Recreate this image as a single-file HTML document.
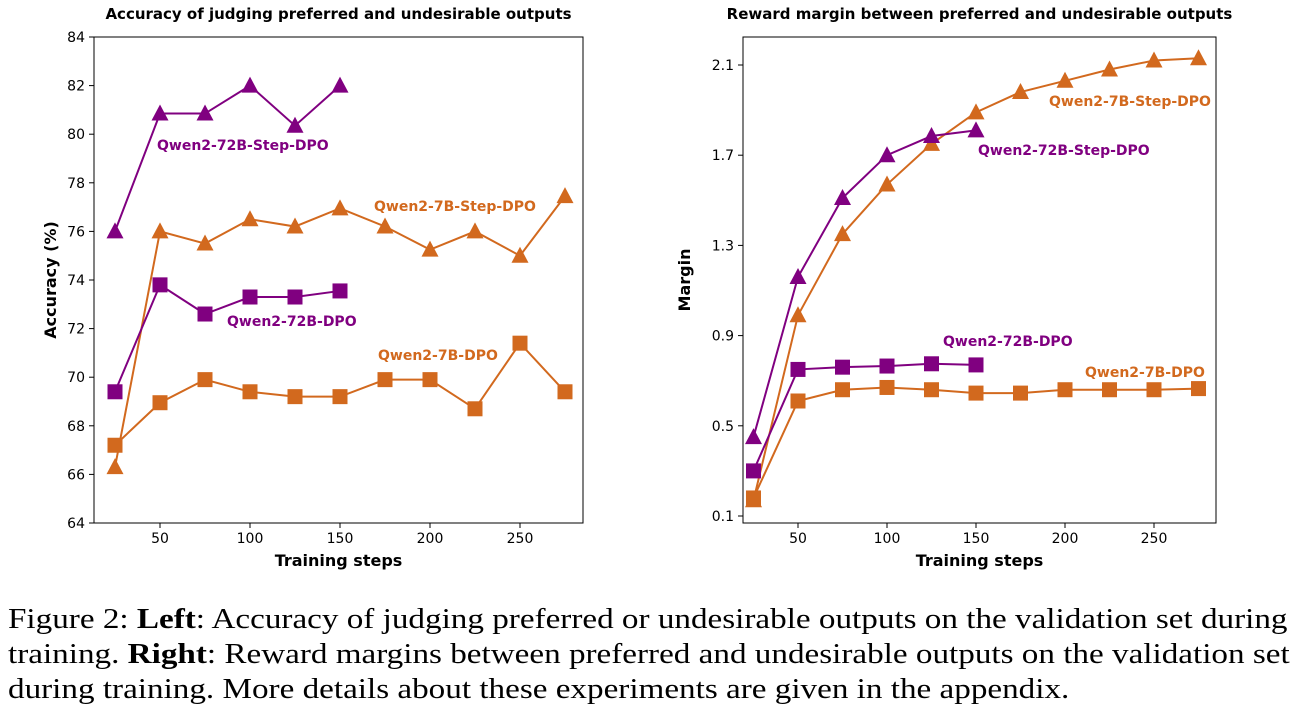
<!DOCTYPE html>
<html><head><meta charset="utf-8"><style>
body{margin:0;background:#fff;width:1302px;height:711px;overflow:hidden;position:relative}
svg text{font-family:"DejaVu Sans","Liberation Sans",sans-serif}
.cap{position:absolute;left:8px;top:602px;font-family:"Liberation Serif",serif;font-size:29px;line-height:35px;color:#000;white-space:nowrap;transform:scaleX(1.143);transform-origin:0 0}
</style></head><body>
<svg id="chart" width="1302" height="600" style="position:absolute;left:0;top:0"></svg>
<div class="cap">Figure 2: <b>Left</b>: Accuracy of judging preferred or undesirable outputs on the validation set during<br>training. <b>Right</b>: Reward margins between preferred and undesirable outputs on the validation set<br>during training. More details about these experiments are given in the appendix.</div>
<script>
const steps7=[25,50,75,100,125,150,175,200,225,250,275];
const steps72=[25,50,75,100,125,150];
const accStep72=[76,80.85,80.85,82,80.35,82];
const accStep7=[66.3,76,75.5,76.5,76.2,76.95,76.2,75.25,76,75,77.45];
const accDpo72=[69.4,73.8,72.6,73.3,73.3,73.55];
const accDpo7=[67.2,68.95,69.9,69.4,69.2,69.2,69.9,69.9,68.7,71.4,69.4];
const marStep7=[0.17,0.99,1.35,1.57,1.75,1.89,1.98,2.03,2.08,2.12,2.13];
const marStep72=[0.45,1.16,1.51,1.70,1.785,1.81];
const marDpo72=[0.30,0.75,0.76,0.765,0.775,0.77];
const marDpo7=[0.18,0.61,0.66,0.67,0.66,0.645,0.645,0.66,0.66,0.66,0.665];
const accTicks=[64,66,68,70,72,74,76,78,80,82,84];
const marTicks=[0.1,0.5,0.9,1.3,1.7,2.1];
const xTicks=[50,100,150,200,250];
const PUR="#800080",ORG="#d2691e";
const svg=document.getElementById('chart');const NS="http://www.w3.org/2000/svg";
function el(t,a,p){const e=document.createElementNS(NS,t);for(const k in a)e.setAttribute(k,a[k]);(p||svg).appendChild(e);return e;}
function panel(o){
 const g=el('g',{});
 
 
 const X=v=>o.xa+(v-50)*o.xs;
 const Y=v=>o.y1-(v-o.ymin)*(o.y1-o.y0)/(o.ymax-o.ymin);
 const fr=el('rect',{x:o.x0,y:o.y0,width:o.x1-o.x0,height:o.y1-o.y0,fill:'none',stroke:'#000','stroke-width':1},g);
 
 
 xTicks.forEach(t=>{el('line',{x1:X(t),x2:X(t),y1:o.y1,y2:o.y1+5,stroke:'#000'},g);
  const tx=el('text',{x:X(t),y:o.y1+20,'text-anchor':'middle','font-size':14},g);tx.textContent=t;
  
  });
 o.ticks.forEach(t=>{el('line',{x1:o.x0-5,x2:o.x0,y1:Y(t),y2:Y(t),stroke:'#000'},g);
  const tx=el('text',{x:o.x0-9,y:Y(t)+5,'text-anchor':'end','font-size':14},g);tx.textContent=o.fmt(t);
  
  });
 let t=el('text',{x:(o.x0+o.x1)/2,y:o.y1+43,'text-anchor':'middle','font-size':16,'font-weight':'bold'},g);t.textContent='Training steps';
 
 
 t=el('text',{x:0,y:0,'text-anchor':'middle','font-size':16,'font-weight':'bold',transform:`translate(${o.ylx},${(o.y0+o.y1)/2}) rotate(-90)`},g);t.textContent=o.ylabel;
 
 
 t=el('text',{x:(o.x0+o.x1)/2,y:19,'text-anchor':'middle','font-size':15,'font-weight':'bold'},g);t.textContent=o.title;
 
 
 o.series.forEach(s=>{
  const sg=el('g',{},g);
  
  
  el('polyline',{points:s.xs.map((x,i)=>X(x)+','+Y(s.ys[i])).join(' '),fill:'none',stroke:s.c,'stroke-width':2},sg);
  s.xs.forEach((x,i)=>{const cx=X(x),cy=Y(s.ys[i]);let m;
   if(s.m==='tri')m=el('polygon',{points:`${cx},${cy-9} ${cx-8.5},${cy+7} ${cx+8.5},${cy+7}`,fill:s.c},sg);
   else m=el('rect',{x:cx-7.5,y:cy-7.5,width:15,height:15,fill:s.c},sg);
   
   });
  const lb=el('text',{x:s.lx,y:s.ly,'font-size':14,'font-weight':'bold',fill:s.c},sg);lb.textContent=s.label;
  
  
 });
}
panel({name:'accuracy-chart',x0:94,x1:583,y0:37,y1:523,xa:160,xs:1.8,ymin:64,ymax:84,ticks:accTicks,fmt:v=>v,ylx:56,ylabel:'Accuracy (%)',
 title:'Accuracy of judging preferred and undesirable outputs',
 series:[
 {name:'qwen2-7b-step-dpo-series',xs:steps7,ys:accStep7,c:ORG,m:'tri',label:'Qwen2-7B-Step-DPO',lx:374,ly:211},
 {name:'qwen2-7b-dpo-series',xs:steps7,ys:accDpo7,c:ORG,m:'sq',label:'Qwen2-7B-DPO',lx:378,ly:360},
 {name:'qwen2-72b-step-dpo-series',xs:steps72,ys:accStep72,c:PUR,m:'tri',label:'Qwen2-72B-Step-DPO',lx:157,ly:150},
 {name:'qwen2-72b-dpo-series',xs:steps72,ys:accDpo72,c:PUR,m:'sq',label:'Qwen2-72B-DPO',lx:227,ly:326}]});
panel({name:'margin-chart',x0:743,x1:1216,y0:37,y1:523,xa:798,xs:1.78,ymin:0.1-7/225.5,ymax:0.1+479/225.5,ticks:marTicks,fmt:v=>v.toFixed(1),ylx:690,ylabel:'Margin',
 title:'Reward margin between preferred and undesirable outputs',
 series:[
 {name:'qwen2-7b-step-dpo-series',xs:steps7,ys:marStep7,c:ORG,m:'tri',label:'Qwen2-7B-Step-DPO',lx:1049,ly:106},
 {name:'qwen2-7b-dpo-series',xs:steps7,ys:marDpo7,c:ORG,m:'sq',label:'Qwen2-7B-DPO',lx:1085,ly:377},
 {name:'qwen2-72b-step-dpo-series',xs:steps72,ys:marStep72,c:PUR,m:'tri',label:'Qwen2-72B-Step-DPO',lx:978,ly:155},
 {name:'qwen2-72b-dpo-series',xs:steps72,ys:marDpo72,c:PUR,m:'sq',label:'Qwen2-72B-DPO',lx:943,ly:346}]});
</script>
</body></html>
